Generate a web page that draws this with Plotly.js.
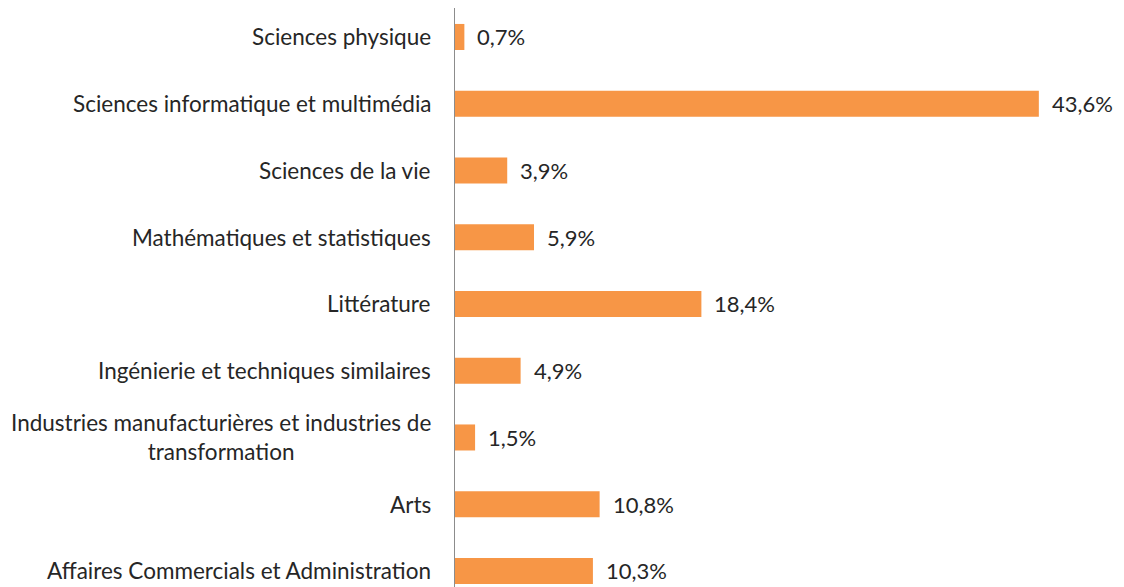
<!DOCTYPE html>
<html>
<head>
<meta charset="utf-8">
<script src="https://cdn.plot.ly/plotly-3.0.1.min.js"></script>
<style>html,body{margin:0;padding:0;background:#fff;}#chart{width:1124px;height:587px;}</style>
</head>
<body>
<div id="chart"></div>
<script>
const categories = [
  "Sciences physique",
  "Sciences informatique et multimédia",
  "Sciences de la vie",
  "Mathématiques et statistiques",
  "Littérature",
  "Ingénierie et techniques similaires",
  "Industries manufacturières et industries de<br>transformation",
  "Arts",
  "Affaires Commercials et Administration"
];
const values = [0.7, 43.6, 3.9, 5.9, 18.4, 4.9, 1.5, 10.8, 10.3];
const valueLabels = values.map(v => v.toFixed(1).replace('.', ',') + '%');

const FONT = 'Lato, "Liberation Sans", sans-serif';
const TXT = '#262626';

const annotations = [];
categories.forEach((c, i) => {
  annotations.push({
    xref: 'paper', yref: 'y', x: 0, y: c, xanchor: 'right', yanchor: 'middle',
    xshift: -22, text: c, showarrow: false, align: 'center',
    font: {family: FONT, size: 22.5, color: TXT}
  });
  annotations.push({
    xref: 'x', yref: 'y', x: values[i], y: c, xanchor: 'left', yanchor: 'middle',
    xshift: 11, text: valueLabels[i], showarrow: false,
    font: {family: FONT, size: 22, color: TXT}
  });
});

const trace = {
  type: 'bar', orientation: 'h', x: values, y: categories,
  marker: {color: '#F79646'}, hoverinfo: 'none'
};

const layout = {
  width: 1124, height: 587,
  margin: {l: 455, r: 0, t: 8, b: 0},
  paper_bgcolor: '#fff', plot_bgcolor: '#fff',
  showlegend: false,
  bargap: 0.61,
  xaxis: {range: [0, 49.96], showgrid: false, zeroline: false, showticklabels: false, showline: false, ticks: ''},
  yaxis: {type: 'category', range: [8.24, -0.434], showticklabels: false, showgrid: false, zeroline: false,
          showline: true, linecolor: '#8c8c8c', linewidth: 1, ticks: ''},
  annotations: annotations
};

Plotly.newPlot('chart', [trace], layout, {displayModeBar: false, staticPlot: true});
</script>
</body>
</html>
